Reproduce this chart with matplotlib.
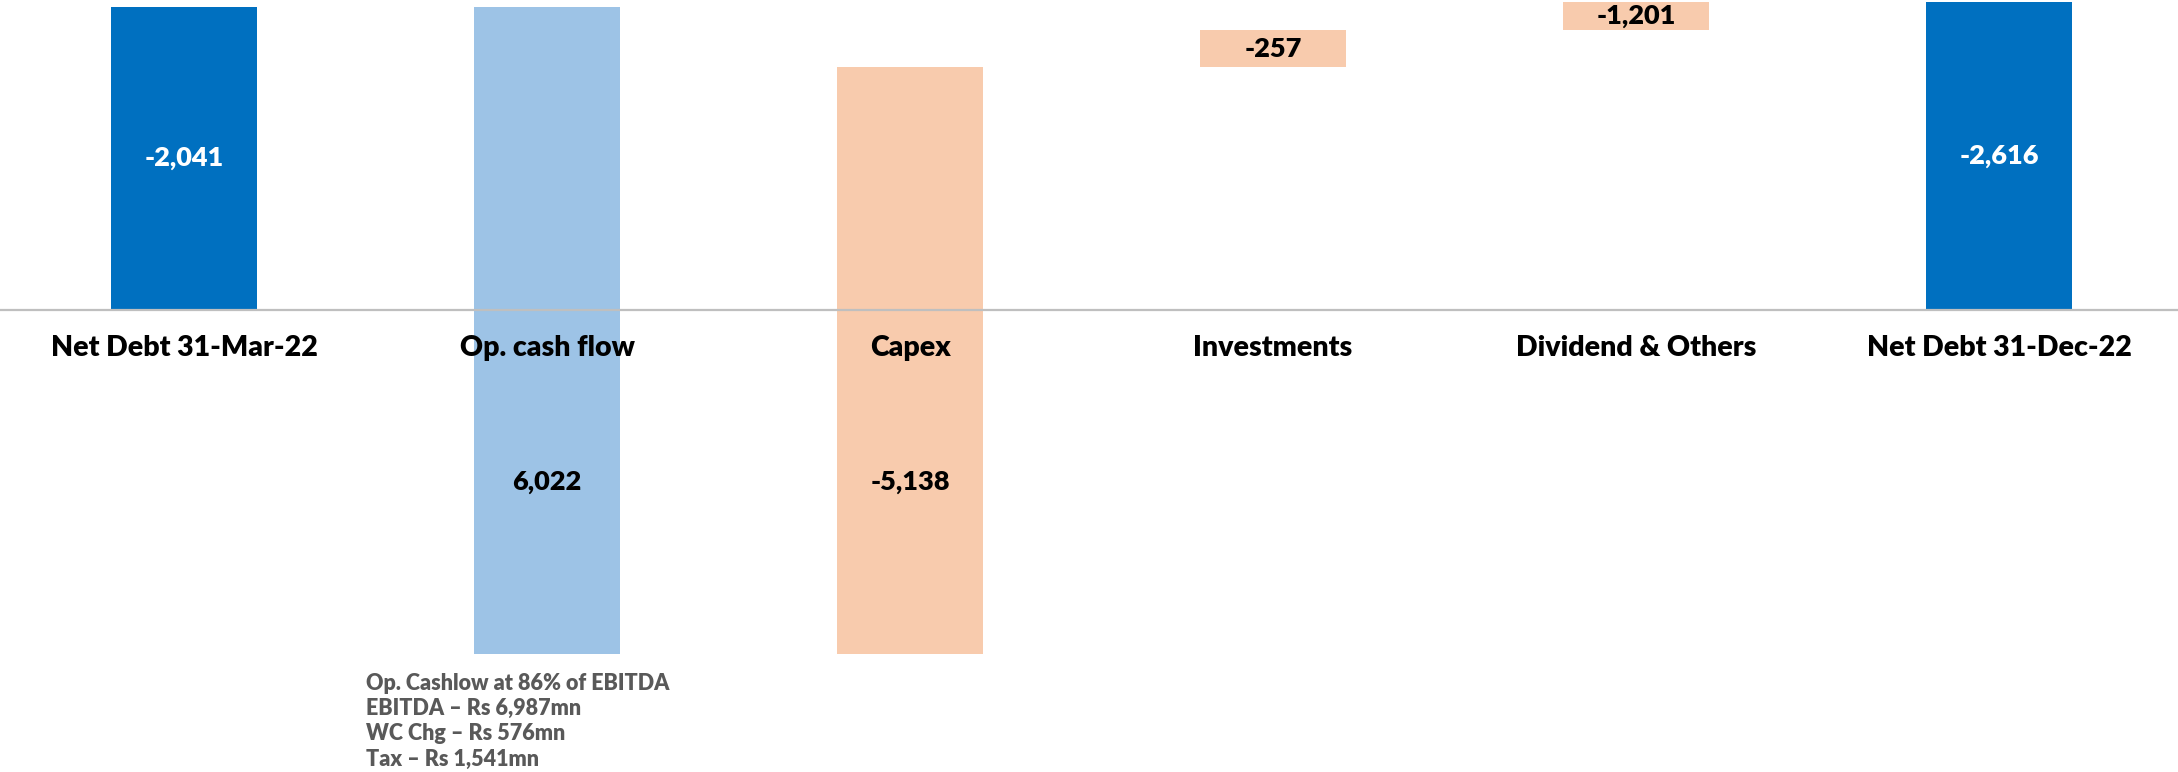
import matplotlib
import matplotlib.pyplot as plt
import matplotlib.transforms as mtransforms

matplotlib.use('Agg')
plt.rcParams['font.family'] = ['Lato', 'DejaVu Sans']

# Categories and printed values
categories = ["Net Debt 31-Mar-22", "Op. cash flow", "Capex",
              "Investments", "Dividend & Others", "Net Debt 31-Dec-22"]
values = [-2041, 6022, -5138, -257, -1201, -2616]

# Bar extents as drawn in the chart (axis is inverted, negatives go up)
bar_start = [0, -2041, 2317, -1635, -1886, 0]
bar_end = [-2041, 2317, -1635, -1886, -2075, -2075]

colors = ["#0070C0", "#9DC3E6", "#F8CBAD", "#F8CBAD", "#F8CBAD", "#0070C0"]
label_colors = ["white", "black", "black", "black", "black", "white"]

note_lines = ["Op. Cashlow at 86% of EBITDA",
              "EBITDA \u2013 Rs 6,987mn",
              "WC Chg \u2013 Rs 576mn",
              "Tax \u2013 Rs 1,541mn"]

fig = plt.figure(figsize=(21.78, 7.72), dpi=100)
ax = fig.add_axes([0, 0, 1, 1])

x = list(range(len(categories)))
bottoms = [min(s, e) for s, e in zip(bar_start, bar_end)]
heights = [abs(e - s) for s, e in zip(bar_start, bar_end)]
ax.bar(x, heights, bottom=bottoms, width=0.4, color=colors, zorder=2)

ax.axhline(0, color="#BFBFBF", lw=1.6, zorder=3)

# value labels: bars crossing zero get the label in the middle of the part below zero
for i, v in enumerate(values):
    s, e = bar_start[i], bar_end[i]
    if min(s, e) < 0 < max(s, e):
        y = max(s, e) / 2
    else:
        y = (s + e) / 2
    ax.text(i, y, f"{v:,}", ha="center", va="center", fontsize=19.5,
            fontweight="heavy", color=label_colors[i], zorder=4)

# category labels under the zero line
trans = mtransforms.offset_copy(ax.transData, fig=fig, x=0, y=-38, units="dots")
for i, name in enumerate(categories):
    ax.text(i, 0, name, ha="center", va="center", fontsize=20.5,
            fontweight="heavy", color="black", transform=trans, zorder=4)

# note under op. cash flow bar
for k, line in enumerate(note_lines):
    fig.text(366 / 2178, 1 - (683 + 25.5 * k) / 772, line, ha="left",
             va="center", fontsize=15.5, fontweight="heavy", color="#595959")

ax.set_xlim(-0.507, 5.493)
ax.set_ylim(3112, -2088)
ax.axis("off")

fig.savefig("out.png", dpi=100)
